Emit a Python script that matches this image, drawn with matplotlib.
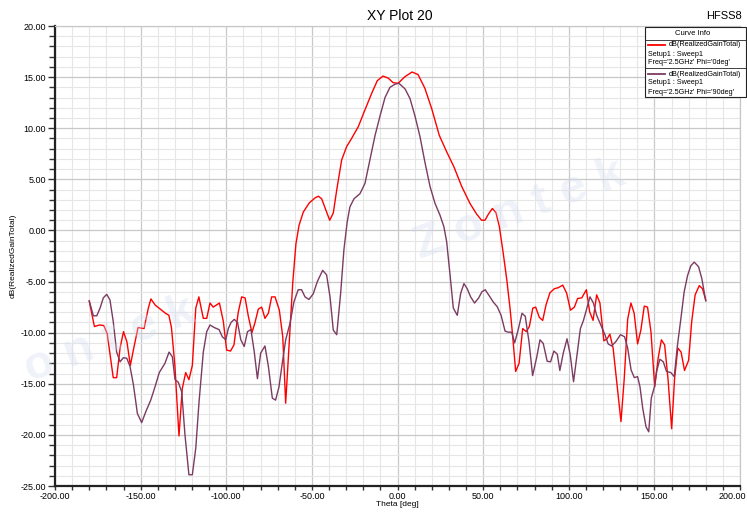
import matplotlib
matplotlib.use("Agg")
from matplotlib import pyplot as plt
from matplotlib.lines import Line2D
from matplotlib.patches import Rectangle
from matplotlib.ticker import MultipleLocator, FormatStrFormatter, FuncFormatter

# theta [deg] / dB(RealizedGainTotal)
theta_phi0 = [-180, -177, -174, -171.5, -169.5, -166, -164, -162, -160, -158, -156, -154,
              -151.5, -148, -145.5, -144, -141.5, -138.5, -135.5, -133.5, -132, -130,
              -127.6, -125.7, -123.7, -121.8, -119.8, -117.8, -116, -113.4, -111.4, -109.5,
              -107.6, -104, -101.7, -99.8, -97.5, -95.5, -93, -91, -89, -87.1, -85, -83.2,
              -81.3, -79.3, -77.4, -75.4, -73.5, -71.5, -69, -67, -65.3, -63.2, -61.2,
              -59.3, -57.5, -55, -51.5, -48, -46.2, -44.3, -42.3, -39.6, -37.5, -35.5,
              -32.6, -29.7, -26.8, -22.9, -19, -15.1, -11.8, -8.5, -5.4, -2.5, 0.4, 4.4,
              8.5, 12, 16, 20, 24.4, 28.7, 33, 37.5, 42.3, 46.2, 49.1, 51.1, 53.1, 55.4,
              57.5, 59.5, 61.8, 63.8, 65.7, 67.3, 69, 71, 73.1, 75.2, 77, 79, 80.7, 82.8,
              84.8, 86.7, 89, 91.6, 93.9, 96.5, 98.8, 101, 103.3, 105.2, 107.6, 110.3,
              112.2, 114.2, 116.3, 118.2, 120.5, 122.4, 124, 125.9, 128.2, 130.5, 132.4,
              134.4, 136.3, 138.2, 140.2, 142.1, 144.1, 146, 148, 150.2, 152.2, 154.1,
              156, 158, 160.1, 161.8, 163.7, 165.6, 167.6, 170, 171.8, 173.8, 176.2,
              178.1, 180]
gain_phi0 = [-6.9, -9.4, -9.25, -9.3, -10.1, -14.4, -14.4, -11.5, -9.9, -10.9, -13.2, -11.5,
             -9.5, -9.6, -7.6, -6.7, -7.3, -7.7, -8.1, -8.3, -9.5, -13.2,
             -20.1, -15.5, -13.9, -14.6, -13.2, -7.6, -6.5, -8.6, -8.6, -7.1,
             -7.5, -7.1, -8.9, -11.7, -11.8, -11.2, -8.0, -6.5, -6.6, -8.4, -10.0, -9.0,
             -7.7, -7.5, -8.6, -8.1, -6.5, -6.5, -7.8, -10.4, -16.9, -11.0, -5.2,
             -1.3, 0.5, 1.8, 2.7, 3.2, 3.35, 3.1, 2.2, 1.0, 1.7, 3.95,
             6.9, 8.2, 9.0, 10.15, 11.8, 13.4, 14.65, 15.1, 14.9, 14.45, 14.4, 15.05,
             15.5, 15.25, 13.9, 11.9, 9.3, 7.7, 6.2, 4.3, 2.65, 1.6, 1.0, 1.0, 1.6, 2.15,
             1.75, 0.36, -2.3, -4.8, -7.6, -10.4, -13.8, -13.0, -9.6, -9.9, -9.4, -7.6, -7.5, -8.5,
             -8.8, -7.3, -6.1, -5.7, -5.6, -5.35, -6.15, -7.8, -7.5, -6.65, -6.6, -5.8,
             -7.95, -8.8, -6.3, -7.1, -10.8, -10.6, -10.15, -11.5, -15.1, -18.7, -14.5,
             -8.7, -7.1, -8.1, -11.1, -9.75, -7.4, -7.5, -9.9, -15.3, -12.5, -10.7,
             -11.2, -14.6, -19.4, -14.5, -11.5, -11.9, -13.7, -12.7, -8.9, -6.3, -5.4,
             -5.7, -6.8]

theta_phi90 = [-180, -177.6, -175.6, -173.7, -171.8, -169.8, -167.9, -166, -164, -162, -160.1,
               -158.1, -156.2, -154.2, -151.9, -149.4, -146.9, -144.1, -141.6, -139.1, -135.8,
               -133.4, -131.5, -129.9, -128, -126, -124.1, -121.8, -119.8, -117.8, -115.9,
               -113.4, -111.4, -109.5, -107, -104.2, -102.3, -100.3, -98.8, -97.2, -95.3,
               -93.4, -91.5, -89.5, -87.6, -85.6, -83.7, -81.8, -79.9, -77.4, -75.4, -73.1,
               -71.2, -69.2, -67.3, -65.3, -62.8, -60.5, -58, -56, -54, -51.7, -49.2, -46.8,
               -43.7, -41.4, -39.4, -37.5, -35.5, -33.2, -31.3, -29.4, -27.8, -25.4, -21.9,
               -19, -16.1, -13.1, -10.2, -7.3, -4.4, -1.5, 0.8, 4.4, 7.3, 10.2, 13.1, 16.1,
               19, 21.9, 24.8, 27.1, 28.7, 30.6, 32.6, 34.9, 36.9, 38.8, 40.7, 42.7, 45,
               47.4, 49.3, 51.2, 53.6, 55.9, 58.2, 60.5, 62.8, 64.7, 66.7, 68.4, 70.5, 72.7,
               74.6, 76.8, 78.9, 81.3, 83.2, 85.1, 87.4, 89.4, 91.3, 93.3, 94.8, 96.8, 99,
               100.9, 102.8, 104.8, 106.8, 108.6, 110.6, 112.4, 114.4, 116.3, 118.7, 121,
               123, 125, 127.4, 130.2, 132.6, 134.4, 136.4, 138.3, 140.2, 141.6, 143.2,
               145.1, 146.7, 148.2, 150, 151.3, 153.2, 155.2, 157.1, 159.6, 161.6, 163.5,
               165.5, 167.4, 169.4, 171.3, 173.3, 175.8, 177.7, 180]
gain_phi90 = [-6.9, -8.35, -8.35, -7.6, -6.6, -6.25, -6.8, -8.9, -11.9, -12.85, -12.45,
              -12.5, -13.3, -15.1, -17.9, -18.8, -17.7, -16.6, -15.3, -13.9, -13.0,
              -11.9, -12.35, -14.6, -14.85, -15.8, -20.0, -23.9, -23.9, -21.3, -16.8,
              -11.9, -9.9, -9.25, -9.5, -9.7, -10.4, -10.7, -9.6, -9.0, -8.7,
              -9.0, -10.7, -11.35, -9.9, -9.7, -11.8, -14.5, -12.0, -11.3, -13.3, -16.4,
              -16.6, -15.3, -13.0, -10.7, -9.1, -7.0, -5.8, -5.8, -6.5, -6.75, -6.2, -5.0,
              -3.9, -4.35, -6.5, -9.75, -10.2, -6.15, -1.9, 0.8, 2.3, 3.1, 3.6,
              4.6, 6.9, 9.3, 11.2, 13.0, 14.0, 14.3, 14.4, 13.85, 12.9, 11.2, 9.2, 6.6,
              4.3, 2.65, 1.5, 0.36, -1.1, -4.2, -7.6, -8.3, -6.15, -5.2, -5.7, -6.5, -7.1,
              -6.6, -6.0, -5.8, -6.4, -7.0, -7.45, -8.3, -9.85, -9.95, -9.95, -11.0, -9.7, -8.1,
              -8.4, -10.9, -14.2, -12.4, -10.7, -11.05, -12.8, -12.85, -11.8, -12.1, -13.7, -12.0, -10.6,
              -12.2, -14.8, -12.2, -9.6, -8.8, -7.6, -6.5, -7.1, -8.3, -9.25, -10.15,
              -11.1, -11.3, -10.9, -10.2, -10.4, -11.5, -13.65, -14.4, -14.3, -15.3, -17.4,
              -19.2, -19.7, -16.4, -15.3, -13.8, -12.6, -12.85, -13.8, -13.9, -14.3, -11.2,
              -8.6, -6.0, -4.4, -3.45, -3.1, -3.55, -4.7, -6.9]

plt.rcParams['font.family'] = ['Liberation Sans', 'DejaVu Sans']

W, H = 747, 512
fig = plt.figure(figsize=(W / 100, H / 100), dpi=100)
ax = fig.add_axes([55 / W, 26 / H, 685 / W, 460 / H])

# faint watermark text
wm = dict(color='#d3def0', alpha=0.35, fontsize=34, fontweight='bold', zorder=0.5,
          ha='center', va='center')
fig.text(520 / W, 1 - 210 / H, 'Z o n t e k', rotation=20, **wm)
fig.text(110 / W, 1 - 340 / H, 'o n t e k', rotation=20, **wm)

ax.plot(theta_phi0, gain_phi0, color='#ff0000', lw=1.0, zorder=3)
ax.plot(theta_phi90, gain_phi90, color='#7b3b62', lw=1.0, zorder=3)

ax.set_xlim(-200, 200)
ax.set_ylim(-25, 20)
ax.xaxis.set_major_locator(MultipleLocator(50))
ax.xaxis.set_minor_locator(MultipleLocator(10))
ax.yaxis.set_major_locator(MultipleLocator(5))
ax.yaxis.set_minor_locator(MultipleLocator(1))
# last x label is drawn separately so it stays inside the figure
ax.xaxis.set_major_formatter(FuncFormatter(lambda v, p: '' if v >= 199 else '%.2f' % v))
ax.yaxis.set_major_formatter(FormatStrFormatter('%.2f'))
ax.annotate('200.00', xy=(200, 0), xycoords=('data', 'axes fraction'),
            xytext=(4.5, -4.4), textcoords='offset points', ha='right', va='top',
            fontsize=6.5, annotation_clip=False)
ax.grid(which='major', color='#c8c8c8', lw=0.9)
ax.grid(which='minor', color='#e6e6e6', lw=0.8)
ax.set_axisbelow(True)
ax.patch.set_alpha(0)

ax.tick_params(which='both', direction='out', labelsize=6.5, color='#333333')
ax.tick_params(axis='y', which='major', length=5, width=1, pad=1.5)
ax.tick_params(axis='y', which='minor', length=4, width=1)
ax.tick_params(axis='x', which='major', length=3, width=1, pad=1.5)
ax.tick_params(axis='x', which='minor', length=3, width=1)
for s in ('left', 'bottom'):
    ax.spines[s].set_color('#222222')
    ax.spines[s].set_linewidth(1.6)
for s in ('top', 'right'):
    ax.spines[s].set_color('#c8c8c8')
    ax.spines[s].set_linewidth(0.9)

ax.set_xlabel('Theta [deg]', fontsize=6, labelpad=0)
ax.set_ylabel('dB(RealizedGainTotal)', fontsize=6, labelpad=3)

fig.text(400 / W, 1 - 16 / H, 'XY Plot 20', fontsize=10, ha='center', va='center')
fig.text(706 / W, 1 - 16 / H, 'HFSS8', fontsize=8, ha='left', va='center')

# curve info box
bx0, bx1, by0, by1 = 645, 746, 27, 97
fig.add_artist(Rectangle((bx0 / W, 1 - by1 / H), (bx1 - bx0) / W, (by1 - by0) / H,
                         transform=fig.transFigure, facecolor='white', edgecolor='#222222',
                         lw=0.8, zorder=10))
fig.add_artist(Line2D([bx0 / W, bx1 / W], [1 - 40 / H, 1 - 40 / H], color='#222222', lw=0.6, zorder=11))
fig.add_artist(Line2D([bx0 / W, bx1 / W], [1 - 68 / H, 1 - 68 / H], color='#222222', lw=0.6, zorder=11))
fig.text(693 / W, 1 - 33.5 / H, 'Curve Info', fontsize=5.5, ha='center', va='center', zorder=12)
entries = [('#ff0000', "Freq='2.5GHz' Phi='0deg'", 45),
           ('#7b3b62', "Freq='2.5GHz' Phi='90deg'", 74)]
for col, freq, yy in entries:
    fig.add_artist(Line2D([648 / W, 665 / W], [1 - yy / H, 1 - yy / H], color=col, lw=1.3, zorder=12))
    fig.text(669 / W, 1 - yy / H, 'dB(RealizedGainTotal)', fontsize=5.2, va='center', zorder=12)
    fig.text(648 / W, 1 - (yy + 9) / H, 'Setup1 : Sweep1', fontsize=5.2, va='center', zorder=12)
    fig.text(648 / W, 1 - (yy + 18) / H, freq, fontsize=5.2, va='center', zorder=12)

fig.savefig('out.png', dpi=100)
